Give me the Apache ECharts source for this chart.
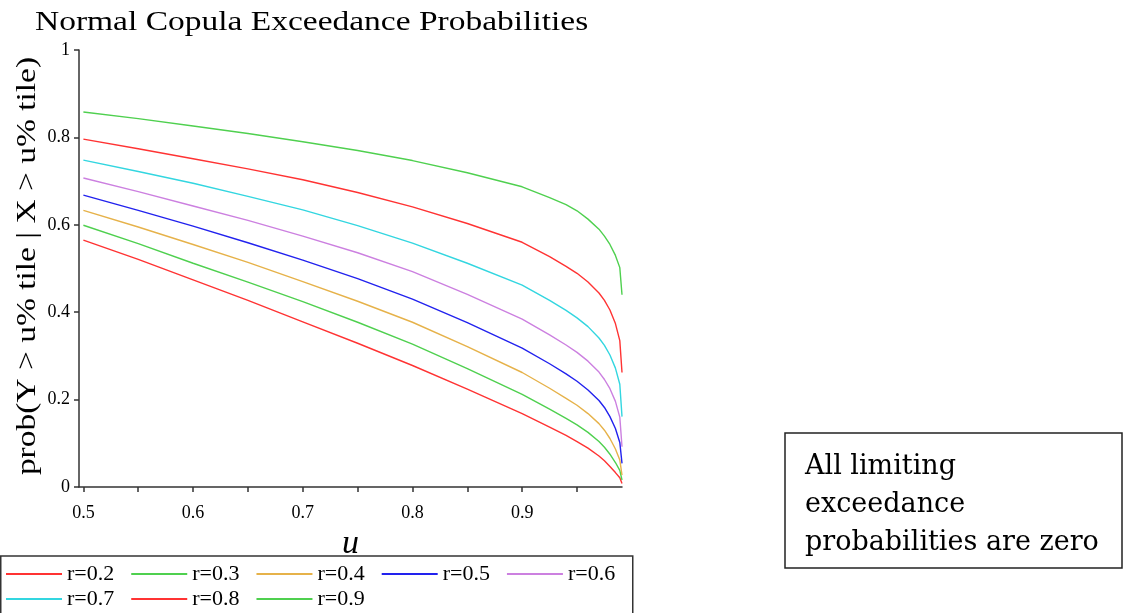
<!DOCTYPE html>
<html>
<head>
<meta charset="utf-8">
<script src="https://cdn.jsdelivr.net/npm/echarts@6/dist/echarts.min.js"></script>
<style>
  html, body { margin: 0; padding: 0; background: #fff; }
  #grafico { width: 1124px; height: 613px; }
</style>
</head>
<body>
<div id="grafico"></div>
<script>
const uVals = [0.5, 0.55, 0.6, 0.65, 0.7, 0.75, 0.8, 0.85, 0.9, 0.925, 0.94, 0.95, 0.96, 0.97, 0.975, 0.98, 0.985, 0.989, 0.991]

// exceedance probability per correlation r
const r02 = [0.565, 0.521, 0.474, 0.427, 0.378, 0.329, 0.278, 0.224, 0.168, 0.137, 0.118, 0.104, 0.089, 0.071, 0.060, 0.047, 0.033, 0.021, 0.008]
const r03 = [0.599, 0.557, 0.512, 0.469, 0.424, 0.377, 0.327, 0.271, 0.212, 0.178, 0.157, 0.142, 0.125, 0.104, 0.091, 0.075, 0.056, 0.038, 0.016]
const r04 = [0.633, 0.595, 0.555, 0.514, 0.470, 0.425, 0.377, 0.321, 0.262, 0.226, 0.203, 0.187, 0.168, 0.145, 0.130, 0.111, 0.087, 0.062, 0.027]
const r05 = [0.668, 0.633, 0.597, 0.559, 0.519, 0.477, 0.430, 0.376, 0.318, 0.282, 0.259, 0.242, 0.222, 0.198, 0.182, 0.161, 0.134, 0.102, 0.054]
const r06 = [0.707, 0.676, 0.643, 0.610, 0.574, 0.536, 0.493, 0.441, 0.384, 0.348, 0.325, 0.308, 0.288, 0.263, 0.246, 0.225, 0.196, 0.160, 0.092]
const r07 = [0.748, 0.722, 0.695, 0.665, 0.634, 0.598, 0.558, 0.512, 0.462, 0.427, 0.404, 0.387, 0.367, 0.341, 0.324, 0.302, 0.272, 0.235, 0.161]
const r08 = [0.796, 0.774, 0.751, 0.728, 0.703, 0.674, 0.641, 0.603, 0.560, 0.527, 0.505, 0.489, 0.469, 0.444, 0.427, 0.405, 0.374, 0.335, 0.262]
const r09 = [0.858, 0.843, 0.826, 0.809, 0.790, 0.770, 0.747, 0.719, 0.687, 0.662, 0.646, 0.632, 0.613, 0.590, 0.574, 0.555, 0.530, 0.502, 0.440]

const seriesNames = ['r=0.2', 'r=0.3', 'r=0.4', 'r=0.5', 'r=0.6', 'r=0.7', 'r=0.8', 'r=0.9']
const seriesData = [r02, r03, r04, r05, r06, r07, r08, r09]
const colores = ['#ff3333', '#4fd04f', '#e6b24a', '#2222ee', '#cc80e0', '#33d6e0', '#ff3333', '#4fd04f']

const xTicks = [0.5, 0.55, 0.6, 0.65, 0.7, 0.75, 0.8, 0.85, 0.9, 0.95]
const xLabels = [0.5, 0.6, 0.7, 0.8, 0.9]

const serif = 'Liberation Serif'

let myChart = echarts.init(document.getElementById('grafico'))

let series = seriesNames.map((name, i) => ({
  name: name,
  type: 'line',
  data: uVals.map((u, k) => [u, seriesData[i][k]]),
  showSymbol: false,
  lineStyle: { width: 1.4, color: colores[i] },
  itemStyle: { color: colores[i] },
  emphasis: { disabled: true }
}))

let legendBase = {
  icon: 'rect',
  itemWidth: 56,
  itemHeight: 2,
  itemGap: 17,
  padding: 0,
  textStyle: { fontFamily: serif, fontSize: 22, color: '#000' }
}

let option = {
  animation: false,
  legend: [
    Object.assign({ left: 6, top: 563, data: seriesNames.slice(0, 5) }, legendBase),
    Object.assign({ left: 6, top: 588, data: seriesNames.slice(5) }, legendBase)
  ],
  grid: { left: 79, right: 502, top: 50, bottom: 126 },
  xAxis: {
    type: 'value',
    min: 0.496,
    max: 0.991,
    name: 'u',
    nameLocation: 'middle',
    nameGap: 40,
    nameTextStyle: { fontFamily: serif, fontSize: 34, fontStyle: 'italic', color: '#000' },
    axisLine: { lineStyle: { color: '#333', width: 1.5 } },
    axisTick: { customValues: xTicks, length: 5, lineStyle: { color: '#333', width: 1.5 } },
    axisLabel: {
      customValues: xLabels,
      margin: 17,
      fontFamily: serif,
      fontSize: 18,
      color: '#000',
      formatter: v => v.toFixed(1)
    },
    splitLine: { show: false }
  },
  yAxis: {
    type: 'value',
    min: 0,
    max: 1,
    interval: 0.2,
    axisLine: { show: true, lineStyle: { color: '#333', width: 1.5 } },
    axisTick: { show: true, length: 5, lineStyle: { color: '#333', width: 1.5 } },
    axisLabel: {
      margin: 9,
      fontFamily: serif,
      fontSize: 18,
      color: '#000',
      formatter: v => (v === 0 || v === 1 ? String(v) : v.toFixed(1))
    },
    splitLine: { show: false }
  },
  graphic: [
    {
      type: 'text',
      x: 35,
      y: 9,
      scaleX: 1.24,
      style: {
        text: 'Normal Copula Exceedance Probabilities',
        font: '27px "Liberation Serif"',
        fill: '#000'
      }
    },
    {
      type: 'text',
      x: 28,
      y: 266,
      rotation: Math.PI / 2,
      scaleX: 1.24,
      style: {
        text: 'prob(Y > u% tile | X > u% tile)',
        font: '27px "Liberation Serif"',
        align: 'center',
        verticalAlign: 'middle',
        fill: '#000'
      }
    },
    {
      type: 'rect',
      shape: { x: 0.75, y: 556, width: 632, height: 60 },
      style: { fill: 'none', stroke: '#333', lineWidth: 1.5 }
    },
    {
      type: 'rect',
      shape: { x: 785, y: 433, width: 337, height: 135 },
      style: { fill: '#fff', stroke: '#222', lineWidth: 1.5 }
    },
    {
      type: 'text',
      x: 805,
      y: 448,
      style: {
        text: 'All limiting\nexceedance\nprobabilities are zero',
        font: '27px "DejaVu Serif"',
        lineHeight: 38,
        fill: '#000'
      }
    }
  ],
  series: series
}

myChart.setOption(option)
</script>
</body>
</html>
